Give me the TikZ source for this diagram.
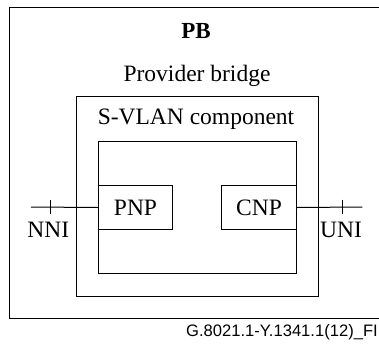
\documentclass[tikz,border=0pt]{standalone}
\usepackage{fontspec}
\setmainfont{Liberation Serif}
\newfontfamily\footfont{Liberation Sans}
\begin{document}
\begin{tikzpicture}[x=1pt,y=-1pt,
  box/.style={draw,line width=1pt,inner sep=0pt,anchor=north west},
  lbl/.style={inner sep=0pt,anchor=base,font=\fontsize{23.5}{26}\selectfont},
  wire/.style={line width=1pt}]
\clip (0,0) rectangle (379,345);
\fill[white] (0,0) rectangle (379,345);
% boxes
\node[box,minimum width=376pt,minimum height=311pt] (pb) at (9,7) {};
\node[box,minimum width=242pt,minimum height=200pt] (svlan) at (76,96) {};
\node[box,minimum width=198pt,minimum height=132pt] (inner) at (98,141) {};
\node[box,minimum width=74pt,minimum height=44pt,font=\fontsize{23.5}{26}\selectfont] (pnp) at (98,185) {PNP};
\node[box,minimum width=75pt,minimum height=44pt,font=\fontsize{23.5}{26}\selectfont] (cnp) at (221,185) {CNP};
% labels
\node[lbl,font=\fontsize{23}{26}\selectfont\bfseries] (pbt) at (196,38.3) {PB};
\node[lbl] (pbn) at (197,81) {Provider bridge};
\node[lbl] (svt) at (196,124) {S-VLAN component};
\node[lbl] (nni) at (48.3,237.7) {NNI};
\node[lbl] (uni) at (341,237.7) {UNI};
\node[inner sep=0pt,anchor=base east,font=\footfont\fontsize{16.6}{18}\selectfont] (foot) at (378,336) {G.8021.1-Y.1341.1(12)\_FI};
% connectors
\coordinate (nniend) at (31,207);
\coordinate (uniend) at (362.3,207);
\coordinate (nnitt) at (50.7,199.5);
\coordinate (nnitb) at (50.7,214);
\coordinate (unitt) at (342.7,199.5);
\coordinate (unitb) at (342.7,214);
\draw[wire] (nniend) -- (pnp.west);
\draw[wire] (cnp.east) -- (uniend);
\draw[wire] (nnitt) -- (nnitb);
\draw[wire] (unitt) -- (unitb);
\end{tikzpicture}
\end{document}
